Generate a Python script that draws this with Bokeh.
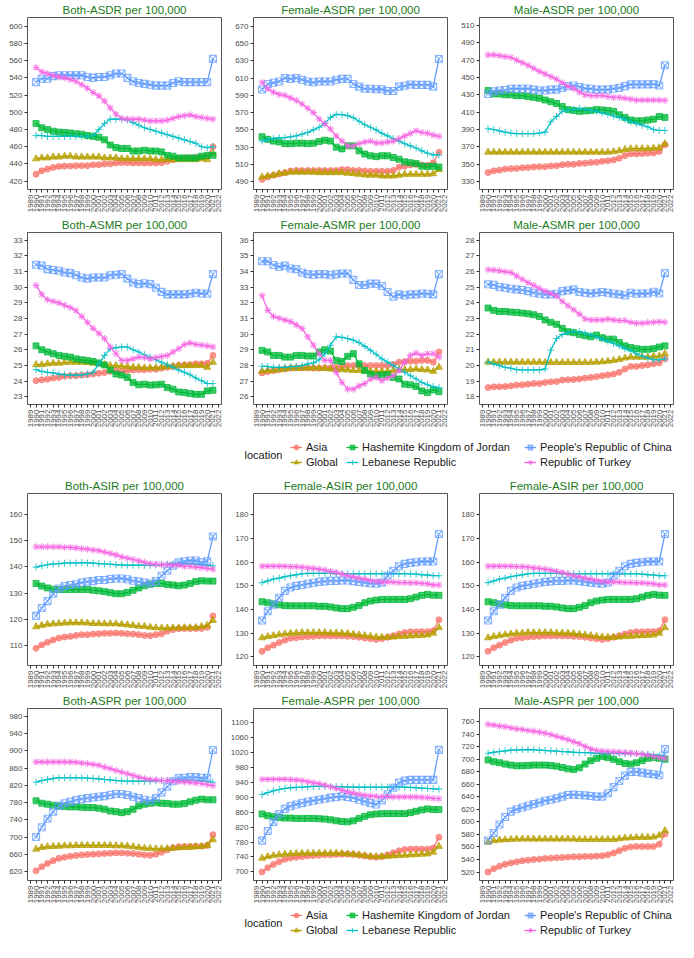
import math
from bokeh.plotting import figure
from bokeh.models import Range1d, FixedTicker, Legend, LegendItem, Label, ColumnDataSource
from bokeh.layouts import column, row
from bokeh.embed import file_html
from bokeh.resources import INLINE

FONT = "Liberation Sans"
YEARS = list(range(1990, 2022))
X_TICKS = list(range(1989, 2023))
LOCATIONS = ["Asia", "Global", "Hashemite Kingdom of Jordan", "Lebanese Republic",
             "People's Republic of China", "Republic of Turkey"]
COLORS = ["#F8766D", "#B79F00", "#00BA38", "#00BFC4", "#619CFF", "#F564E3"]
MARKERS = ["circle", "triangle", "square", "cross", "square_x", "asterisk"]

BOTH_ASDR = {
    "Asia": [428,432,434,436,437,437.5,437.5,438,438,438,439,439,440,440,441,441.5,441.5,441,441,441,441,441,441.5,443,445,446.5,447,447,447.5,448,449,460],
    "Global": [446,447,447,448,448,449,449,448,448,448,448,448,447,447,447,446,446,446,446,446,446,445,445,445,445,445,445,445,445,446,445,452],
    "Hashemite Kingdom of Jordan": [487,482,480,478,477,476.5,476,475,474.5,473,472,471,468,462,459,458,458,455,455,456,455,455,454,450,449,447,447,447,447,449,450,450],
    "Lebanese Republic": [473,473,472,472,472,472,472,472,472,472,473,480,487,492,492,492,491,488,485,482,480,478,476,474,472,470,468,466,464,460,459,460],
    "People's Republic of China": [535,539,539,542,543,543,543,543,543,541,540,541,541,543,545,545,540,536,534,533,532,531,531,531,534,536,535,535,535,535,535,562],
    "Republic of Turkey": [552,547,545,543,541,540,538,536,532,528,523,519,513,505,498,493,492,492,492,491,490,490,490,491,493,495,496,497,495,494,493,492],
}
FEMALE_ASDR = {
    "Asia": [492.7,495.5,497.5,499,500.5,502.4,503,503,503,503,503,503,503,503,504,504,503,503,502.5,502,502,502,502,503,507,508,509.4,510,509.4,509,512,524],
    "Global": [495.5,496.6,497.5,499.3,500,501,501,501,501,501,500.5,500.5,500.5,500.5,500.5,499.7,499.3,498.6,497.8,497.5,497.5,496.6,496.6,496.6,497.5,498.6,498.6,498.6,498.6,498.6,499.3,504],
    "Hashemite Kingdom of Jordan": [542,539,537,536,534,534,534.6,534.6,534,534.6,536.6,538,537,530,528,531.5,531.5,525.7,522,520,519,520,520,518,516,513,512,511,508,507.5,508,507],
    "Lebanese Republic": [537,539,540,541,541,542,543,545,547,550,553,557.5,564.5,568,567.6,566.5,564,560,556,553,550,546,543,540,537,534,531.5,529,525.7,523,521,521],
    "People's Republic of China": [596.7,603,604.5,606,610,609,610,608,606,605,606,606,606,608,609,609,603,600,597.5,597.5,597,597,595,595,600,601,602.5,602,602,602,600,632],
    "Republic of Turkey": [605,597.5,593.6,591,590,587,584,580,575,570,562.5,557,551,543,537,531.5,531.5,534,536,537,535,535,536,537,540,543,546,549,547,546,544,542.5],
}
MALE_ASDR = {
    "Asia": [340.5,342.5,343.3,344.5,345,345.3,346,346.3,347,347.3,347.3,348,348.3,349.5,350,350,351,351.3,352,352.4,353.4,354,355,357,360,362,362,362.3,362.7,363,364.7,372.5],
    "Global": [364,364,364,364,364,364,364,364,364,364,364,364,364,364,364,364,364,364,364,364,364,364,364.5,365.5,367,368,368,368,368,368.6,369,373.6],
    "Hashemite Kingdom of Jordan": [435,431,431,430,430,429,429,428,427,426,424,422,420,416.5,413,412,411,411.5,412,413,412.6,412,411,407,404,401,400,400,401,402,405,404],
    "Lebanese Republic": [391,390,388.5,387,386,385.3,385.3,385.3,385.3,386,387,399,405,411,412.6,413,414.5,413,412,411,409,407.5,405.6,404,401.7,399,397,395,393,390,389,389],
    "People's Republic of China": [431,434,435,435.5,437,437,437,437,436,435,435,436,436,438,440,440.7,439,437.5,437,436,436,436,437,438,440,442,442,442,442,442.3,440.7,464],
    "Republic of Turkey": [476,476,475,474,473,470,467,464,460.5,457,454,451,448,444,440,437,433,430,429,429,429,428,427,427,426,425,424,424,424,424,424,423.5],
}
BOTH_ASMR = {
    "Asia": [24.02,24.08,24.12,24.19,24.23,24.3,24.34,24.34,24.38,24.4,24.45,24.5,24.54,24.62,24.67,24.62,24.67,24.7,24.73,24.73,24.75,24.75,24.82,24.88,24.93,25.0,25.03,25.05,25.1,25.1,25.14,25.64],
    "Global": [25.05,25.05,25.1,25.14,25.14,25.18,25.2,25.2,25.2,25.18,25.14,25.1,25.05,24.99,24.99,24.95,24.93,24.88,24.88,24.84,24.84,24.84,24.88,24.93,24.95,24.99,24.99,24.99,24.99,24.99,24.88,25.2],
    "Hashemite Kingdom of Jordan": [26.25,26.0,25.86,25.75,25.64,25.58,25.53,25.42,25.36,25.32,25.25,25.16,25.03,24.7,24.45,24.38,24.23,23.9,23.76,23.8,23.74,23.76,23.8,23.58,23.48,23.3,23.26,23.2,23.15,23.15,23.37,23.41],
    "Lebanese Republic": [24.73,24.62,24.56,24.52,24.45,24.4,24.38,24.38,24.4,24.45,24.56,25.1,25.64,26.07,26.14,26.18,26.18,26.0,25.86,25.68,25.53,25.36,25.2,25.03,24.88,24.7,24.56,24.4,24.19,24.02,23.84,23.84],
    "People's Republic of China": [31.44,31.38,31.16,31.1,31.05,30.94,30.9,30.77,30.62,30.55,30.62,30.62,30.62,30.77,30.8,30.84,30.55,30.3,30.2,30.25,30.2,29.97,29.7,29.54,29.54,29.54,29.54,29.58,29.65,29.6,29.58,30.84],
    "Republic of Turkey": [30.12,29.54,29.2,29.1,29.0,28.85,28.7,28.5,28.13,27.76,27.37,27.05,26.72,26.18,25.75,25.32,25.32,25.42,25.53,25.5,25.42,25.5,25.57,25.64,25.86,26.07,26.33,26.44,26.35,26.3,26.25,26.18],
}
FEMALE_ASMR = {
    "Asia": [27.52,27.6,27.67,27.73,27.77,27.82,27.84,27.84,27.84,27.82,27.82,27.84,27.84,27.88,27.93,27.99,27.99,27.99,27.99,27.99,27.99,27.99,27.99,28.06,28.21,28.25,28.27,28.27,28.32,28.32,28.21,28.86],
    "Global": [27.62,27.67,27.67,27.73,27.77,27.82,27.82,27.82,27.84,27.84,27.82,27.82,27.77,27.73,27.73,27.71,27.67,27.67,27.67,27.62,27.62,27.62,27.62,27.67,27.73,27.73,27.73,27.77,27.73,27.71,27.62,27.88],
    "Hashemite Kingdom of Jordan": [28.96,28.86,28.64,28.64,28.53,28.53,28.64,28.64,28.6,28.6,28.86,29.0,28.92,28.32,28.25,28.58,28.75,28.1,27.67,27.45,27.34,27.39,27.41,27.23,27.13,26.8,26.76,26.65,26.37,26.26,26.43,26.32],
    "Lebanese Republic": [27.95,27.93,27.88,27.88,27.88,27.93,27.93,27.99,28.1,28.16,28.36,28.75,29.29,29.83,29.79,29.72,29.61,29.46,29.22,28.96,28.71,28.42,28.21,27.99,27.77,27.56,27.34,27.13,26.91,26.76,26.65,26.58],
    "People's Republic of China": [34.66,34.66,34.42,34.31,34.38,34.2,34.16,33.94,33.84,33.8,33.84,33.84,33.77,33.84,33.88,33.88,33.47,33.14,33.14,33.23,33.23,33.08,32.69,32.39,32.54,32.47,32.54,32.54,32.6,32.58,32.54,33.84],
    "Republic of Turkey": [32.47,31.52,31.13,31.02,30.91,30.8,30.59,30.37,29.83,29.29,28.75,28.32,28.32,27.56,26.91,26.48,26.48,26.69,26.84,27.13,27.23,27.02,27.19,27.34,27.67,28.21,28.64,28.79,28.64,28.75,28.75,28.53],
}
MALE_ASMR = {
    "Asia": [18.58,18.63,18.63,18.65,18.69,18.74,18.76,18.8,18.84,18.84,18.91,18.95,18.97,19.06,19.08,19.1,19.13,19.19,19.23,19.28,19.34,19.39,19.45,19.56,19.77,19.93,19.93,19.99,20.03,20.1,20.16,20.42],
    "Global": [20.21,20.21,20.21,20.21,20.21,20.21,20.21,20.21,20.21,20.21,20.19,20.19,20.19,20.19,20.19,20.19,20.19,20.19,20.19,20.21,20.23,20.27,20.32,20.38,20.47,20.53,20.53,20.53,20.53,20.58,20.6,20.75],
    "Hashemite Kingdom of Jordan": [23.67,23.52,23.45,23.45,23.41,23.39,23.35,23.3,23.24,23.13,22.91,22.76,22.63,22.37,22.16,22.09,21.98,21.9,21.83,21.94,21.77,21.68,21.68,21.46,21.25,21.14,21.07,21.03,21.03,21.07,21.18,21.25],
    "Lebanese Republic": [20.21,20.1,19.99,19.88,19.82,19.73,19.71,19.71,19.71,19.71,19.77,20.97,21.72,21.98,22.09,22.16,22.16,22.05,21.94,21.83,21.68,21.55,21.4,21.25,21.07,20.92,20.75,20.6,20.47,20.36,20.36,20.42],
    "People's Republic of China": [25.19,25.15,25.01,24.97,24.9,24.86,24.82,24.75,24.65,24.58,24.54,24.54,24.58,24.75,24.8,24.86,24.69,24.65,24.6,24.65,24.69,24.65,24.58,24.54,24.47,24.65,24.58,24.6,24.6,24.71,24.6,25.9],
    "Republic of Turkey": [26.12,26.1,26.05,25.99,25.94,25.73,25.51,25.3,25.12,24.93,24.75,24.6,24.43,24.1,23.82,23.56,23.28,22.98,22.91,22.91,22.91,22.96,22.91,22.87,22.87,22.76,22.7,22.7,22.74,22.76,22.8,22.76],
}
BOTH_ASIR = {
    "Asia": [109.1,110.4,111.4,112.3,113.0,113.4,113.6,114.0,114.3,114.3,114.5,114.6,114.8,114.8,114.9,114.8,114.6,114.5,114.3,114.0,113.9,114.3,114.6,115.6,116.2,116.5,116.6,116.6,116.6,116.6,117.1,121.4],
    "Global": [117.3,117.8,118.2,118.4,118.5,118.7,118.8,118.8,118.8,118.7,118.5,118.5,118.4,118.4,118.4,118.2,118.0,117.8,117.5,117.4,117.1,116.9,116.8,116.8,116.9,116.9,116.9,116.9,117.0,117.4,117.8,119.7],
    "Hashemite Kingdom of Jordan": [133.7,132.7,132.0,131.5,131.4,131.4,131.4,131.4,131.4,131.4,131.1,130.9,130.6,130.2,129.8,129.8,130.3,131.1,132.0,132.8,133.4,133.7,133.7,133.3,133.1,132.8,133.1,133.7,134.4,134.7,134.6,134.6],
    "Lebanese Republic": [139.9,140.4,140.8,141.1,141.2,141.4,141.5,141.5,141.6,141.5,141.4,141.2,141.1,141.0,140.8,140.7,140.6,140.6,140.6,140.6,140.6,140.7,140.8,141.0,141.1,141.2,141.2,141.1,141.0,140.8,140.6,140.4],
    "People's Republic of China": [121.4,124.4,127.0,129.8,131.8,132.7,133.1,133.4,134.0,134.4,134.6,135.0,135.0,135.4,135.6,135.6,135.3,134.7,134.4,134.0,133.7,134.6,136.6,138.5,140.4,141.7,142.1,142.4,142.4,141.7,142.1,151.5],
    "Republic of Turkey": [147.6,147.6,147.6,147.6,147.6,147.4,147.4,147.2,146.9,146.7,146.4,146.1,145.6,145.1,144.5,143.8,143.3,142.8,142.3,141.7,141.2,141.0,140.8,140.8,140.6,140.6,140.2,140.2,139.9,139.7,139.4,139.1],
}
FEMALE_ASIR = {
    "Asia": [122.4,123.9,125.0,126.1,127.1,127.9,128.1,128.4,128.6,128.7,128.9,128.9,128.9,128.9,128.9,128.7,128.6,128.3,128.0,127.7,127.4,127.7,128.3,129.0,129.7,130.3,130.6,130.6,130.7,130.7,131.1,135.7],
    "Global": [128.1,128.6,129.0,129.4,129.7,130.0,130.1,130.3,130.3,130.3,130.3,130.3,130.1,130.1,130.0,129.9,129.6,129.3,129.0,128.7,128.4,128.3,128.3,128.4,128.6,128.7,128.9,129.0,129.1,129.3,130.0,132.4],
    "Hashemite Kingdom of Jordan": [143.3,142.9,142.4,142.0,141.7,141.6,141.6,141.6,141.6,141.6,141.4,141.4,141.1,140.7,140.4,140.4,141.0,141.7,142.9,143.6,144.0,144.3,144.3,144.3,144.3,144.3,144.6,145.3,146.0,146.4,146.1,146.0],
    "Lebanese Republic": [151.4,152.1,152.9,153.3,153.9,154.3,154.7,155.1,155.3,155.3,155.3,155.3,155.3,155.1,155.1,155.1,155.1,155.1,155.1,155.1,155.1,155.1,155.1,155.1,155.1,155.1,155.1,155.0,154.7,154.6,154.3,154.3],
    "People's Republic of China": [135.4,139.3,142.1,145.0,147.9,149.3,150.0,150.4,150.9,151.3,151.7,151.9,152.1,152.1,152.3,152.3,152.0,151.7,151.4,151.1,150.9,151.4,154.3,156.4,158.3,159.3,159.7,160.0,160.3,160.3,160.3,171.9],
    "Republic of Turkey": [158.3,158.3,158.3,158.3,158.3,158.1,158.1,157.9,157.6,157.4,157.1,156.7,156.1,155.7,155.0,154.3,153.9,153.3,152.9,152.3,151.9,151.7,151.7,151.6,151.4,151.4,151.3,151.3,151.1,150.9,150.4,150.4],
}
BOTH_ASPR = {
    "Asia": [622.4,631.8,639.6,645.9,651.4,653.7,656.1,657.6,659.2,660.0,660.8,661.5,662.3,663.1,663.9,663.9,663.1,662.3,660.8,659.2,658.4,660.8,665.4,670.9,675.6,678.0,678.7,678.7,679.5,679.5,681.1,706.0],
    "Global": [672.5,676.4,678.0,678.7,679.5,680.3,680.3,681.1,681.1,681.1,681.1,681.1,681.1,681.1,680.3,680.3,679.5,678.0,676.4,674.8,674.0,673.3,673.3,674.0,674.8,675.6,676.4,677.2,678.0,678.7,681.1,694.4],
    "Hashemite Kingdom of Jordan": [784.4,778.9,776.6,774.2,772.6,771.1,770.3,770.3,769.5,768.7,768.7,767.2,764.8,760.9,759.3,757.0,759.3,764.8,772.6,776.6,778.9,779.7,778.9,778.1,776.6,776.6,778.1,782.0,785.9,788.3,786.7,786.7],
    "Lebanese Republic": [827.4,831.3,833.7,836.0,837.6,837.6,837.6,837.6,837.6,836.8,836.0,835.2,833.7,832.9,831.3,830.5,829.8,829.8,829.8,829.8,829.8,830.5,831.3,831.3,832.1,832.9,832.9,832.1,831.3,830.5,829.0,827.4],
    "People's Republic of China": [700.7,723.3,742.9,759.3,772.6,778.9,782.0,785.9,788.3,790.6,792.2,793.8,795.3,797.7,800.0,800.0,797.7,793.8,790.6,786.7,784.4,790.6,804.0,817.2,829.8,836.8,837.6,839.2,839.2,837.6,837.6,901.8],
    "Republic of Turkey": [874.4,874.4,874.4,874.4,874.4,874.4,874.4,873.6,872.0,870.5,869.0,866.5,862.6,858.7,854.8,851.0,847.0,843.0,839.2,836.0,833.7,832.9,831.3,831.3,829.8,829.0,828.2,827.4,825.9,824.3,822.0,819.6],
}
FEMALE_ASPR = {
    "Asia": [700.0,711.0,720.1,727.4,733.8,737.4,739.3,741.1,742.9,743.8,744.7,745.7,745.7,746.6,747.5,747.5,746.6,744.7,742.9,740.2,739.3,741.1,745.7,751.1,756.6,760.3,761.2,761.2,761.2,761.2,763.9,793.0],
    "Global": [736.5,741.1,743.8,745.7,747.5,748.4,749.3,750.2,750.2,750.2,750.2,750.2,750.2,750.2,749.3,748.4,747.5,745.7,743.8,742.0,741.1,741.1,742.0,742.9,743.8,744.7,745.7,746.6,747.5,748.4,753.0,768.5],
    "Hashemite Kingdom of Jordan": [855.3,850.7,848.0,846.1,844.3,844.3,843.4,843.4,843.4,843.4,842.5,841.6,839.7,837.0,835.2,834.2,837.0,843.4,848.9,853.4,855.3,856.2,856.2,856.2,856.2,856.2,858.9,862.6,866.2,868.9,867.1,867.1],
    "Lebanese Republic": [907.3,912.8,917.4,921.0,923.7,925.6,926.5,927.4,928.3,929.2,929.2,929.2,929.2,928.3,928.3,927.4,927.4,927.4,927.4,927.4,927.4,927.4,927.4,927.4,927.4,927.4,926.5,925.6,924.7,923.7,922.8,921.9],
    "People's Republic of China": [784.0,809.6,834.2,855.3,869.0,876.3,880.8,884.5,888.1,890.9,893.6,896.3,899.1,900.9,902.7,900.9,898.2,893.6,889.0,884.5,880.8,891.8,908.2,925.6,939.3,944.7,946.6,946.6,946.6,946.6,946.6,1027.0],
    "Republic of Turkey": [948.4,948.4,948.4,948.4,948.4,947.5,946.6,944.7,942.0,939.3,936.5,932.9,928.3,923.7,919.2,914.6,911.9,908.2,905.5,903.7,902.7,901.8,901.8,900.9,900.9,900.9,900.9,900.9,900.0,899.1,897.3,896.3],
}
MALE_ASPR = {
    "Asia": [520.0,525.4,529.2,532.5,534.6,536.3,537.9,539.0,540.1,540.6,541.7,542.2,542.8,543.3,543.9,544.4,544.4,545.0,545.0,545.5,546.0,547.6,550.4,554.1,557.9,560.1,560.7,560.7,560.7,560.7,564.4,580.7],
    "Global": [567.7,569.9,571.0,571.5,572.0,572.6,572.6,572.6,572.6,572.6,572.6,572.6,572.6,572.6,572.6,572.6,572.0,572.0,572.0,572.0,572.0,572.0,572.0,573.1,574.2,574.7,575.3,575.3,575.3,575.8,578.5,586.1],
    "Hashemite Kingdom of Jordan": [698.8,696.1,694.4,692.3,690.7,689.6,689.6,690.1,690.7,690.7,690.7,690.1,689.0,686.9,684.7,683.6,686.3,692.3,697.7,701.5,704.2,702.6,699.9,696.1,693.4,692.3,694.4,697.7,701.5,702.6,701.5,699.9],
    "Lebanese Republic": [709.6,711.2,712.3,713.4,714.5,715.0,715.0,715.6,715.0,714.5,714.0,713.4,712.9,712.3,711.8,711.2,710.7,710.7,710.2,709.6,709.6,709.6,709.6,709.1,709.1,709.1,709.1,708.5,708.0,707.5,706.4,705.3],
    "People's Republic of China": [570.4,582.3,595.9,607.8,616.4,620.2,622.9,625.7,628.4,631.1,633.8,635.4,637.6,640.3,643.0,643.5,643.0,642.4,641.4,640.3,640.3,645.7,655.5,665.2,673.9,679.8,679.8,678.7,677.1,676.0,674.4,716.1],
    "Republic of Turkey": [755.7,754.6,753.0,751.9,750.2,748.6,747.5,745.9,744.8,743.2,741.6,739.4,736.7,734.0,731.3,728.0,724.8,720.5,716.7,714.0,712.9,712.3,711.8,711.2,710.7,710.1,709.0,707.9,706.4,704.7,703.1,701.5],
}

# (title, data, visible y-range, y tick start/stop/step)
PANELS = [
    ("Both-ASDR per 100,000", BOTH_ASDR, (410.3, 610.1), (420, 600, 20)),
    ("Female-ASDR per 100,000", FEMALE_ASDR, (481, 680), (490, 670, 20)),
    ("Male-ASDR per 100,000", MALE_ASDR, (321, 519), (330, 510, 20)),
    ("Both-ASMR per 100,000", BOTH_ASMR, (22.5, 33.5), (23, 33, 1)),
    ("Female-ASMR per 100,000", FEMALE_ASMR, (25.5, 36.5), (26, 36, 1)),
    ("Male-ASMR per 100,000", MALE_ASMR, (17.5, 28.5), (18, 28, 1)),
    ("Both-ASIR per 100,000", BOTH_ASIR, (102.6, 167.8), (110, 160, 10)),
    ("Female-ASIR per 100,000", FEMALE_ASIR, (116.4, 189), (120, 180, 10)),
    ("Female-ASIR per 100,000", FEMALE_ASIR, (116.4, 189), (120, 180, 10)),
    ("Both-ASPR per 100,000", BOTH_ASPR, (600, 998), (620, 980, 40)),
    ("Female-ASPR per 100,000", FEMALE_ASPR, (677, 1138), (700, 1100, 40)),
    ("Male-ASPR per 100,000", MALE_ASPR, (506.5, 781), (520, 760, 20)),
]

W, H = 226, 215
TITLE_COLOR = "#1B7B1B"
NAN = float("nan")


def add_series(p, xs, ys, color, marker):
    src = ColumnDataSource(dict(x=xs, y=ys))
    filled = marker in ("circle", "triangle", "square")
    size = 6 if marker in ("circle", "square") else 7
    r2 = p.scatter("x", "y", source=src, marker=marker, size=size,
                   fill_color=color if filled else None, fill_alpha=0.75,
                   line_color=color, line_alpha=0.75, line_width=1 if filled else 1.1)
    r1 = p.line("x", "y", source=src, line_color=color, line_width=1.3)
    return r1, r2


def make_panel(title, data, yr, yt):
    p = figure(width=W, height=H, x_range=Range1d(1988.5, 2022.5), y_range=Range1d(*yr),
               output_backend="svg", toolbar_location=None, title=title,
               min_border_left=27, min_border_right=5, min_border_top=0, min_border_bottom=0)
    p.title.align = "center"
    p.title.text_color = TITLE_COLOR
    p.title.text_font = FONT
    p.title.text_font_size = "11.5px"
    p.title.text_font_style = "normal"
    p.title.standoff = 3
    p.xgrid.visible = False
    p.ygrid.visible = False
    p.outline_line_color = "#555555"
    p.outline_line_width = 1
    p.background_fill_color = "white"
    p.xaxis.ticker = FixedTicker(ticks=X_TICKS)
    p.yaxis.ticker = FixedTicker(ticks=list(range(yt[0], yt[1] + yt[2], yt[2])))
    p.xaxis.major_label_orientation = math.pi / 2
    for ax in (p.xaxis, p.yaxis):
        ax.axis_line_color = None
        ax.major_tick_line_color = "#333333"
        ax.major_tick_out = 3
        ax.major_tick_in = 0
        ax.minor_tick_line_color = None
        ax.major_label_text_font = FONT
        ax.major_label_text_font_size = "8px"
        ax.major_label_text_color = "#4D4D4D"
        ax.major_label_standoff = 2
    for loc, color, marker in zip(LOCATIONS, COLORS, MARKERS):
        add_series(p, YEARS, data[loc], color, marker)
    return p


def make_legend(h, row_top):
    lp = figure(width=678, height=h, x_range=Range1d(0, 678), y_range=Range1d(0, h),
                output_backend="svg", toolbar_location=None, min_border=0,
                x_axis_location=None, y_axis_location=None)
    lp.xgrid.visible = False
    lp.ygrid.visible = False
    lp.outline_line_color = None
    items = []
    for loc, color, marker in zip(LOCATIONS, COLORS, MARKERS):
        r1, r2 = add_series(lp, [NAN], [NAN], color, marker)
        items.append(LegendItem(label=loc, renderers=[r1, r2]))
    xs = [290, 346, 524]
    for i, x0 in enumerate(xs):
        leg = Legend(items=items[2 * i:2 * i + 2], orientation="vertical",
                     location=(x0, h - row_top - 27),
                     label_text_font=FONT, label_text_font_size="11px", label_text_color="#1A1A1A",
                     glyph_width=12, glyph_height=12, label_height=12, spacing=3,
                     padding=0, margin=0, label_standoff=4,
                     border_line_color=None, background_fill_alpha=0)
        lp.add_layout(leg, "center")
    lp.add_layout(Label(x=244, y=h - row_top - 13.5, text="location", text_font=FONT,
                        text_font_size="11px", text_color="#1A1A1A", text_baseline="middle"))
    return lp


figs = [make_panel(*cfg) for cfg in PANELS]
layout = column(
    row(*figs[0:3]),
    row(*figs[3:6]),
    make_legend(46, 11),
    row(*figs[6:9]),
    row(*figs[9:12]),
    make_legend(36, 3),
)

open("out.html", "w").write(file_html(layout, INLINE))
